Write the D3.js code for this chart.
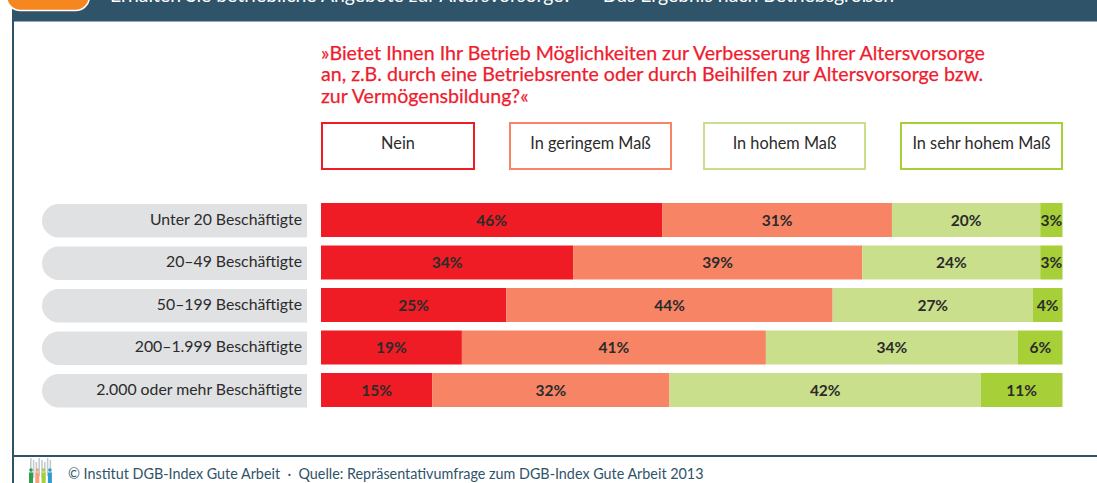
<!DOCTYPE html>
<html>
<head>
<meta charset="utf-8">
<script src="https://cdn.jsdelivr.net/npm/d3@7"></script>
<style>
  html, body { margin: 0; padding: 0; background: #fff; overflow: hidden; }
  svg { display: block; font-family: Lato, "Noto Sans", sans-serif; }
</style>
</head>
<body>
<div id="chart"></div>
<script>
const categories = ['Unter 20 Beschäftigte', '20–49 Beschäftigte', '50–199 Beschäftigte', '200–1.999 Beschäftigte', '2.000 oder mehr Beschäftigte'];
const seriesNames = ['Nein', 'In geringem Maß', 'In hohem Maß', 'In sehr hohem Maß'];
const nein = [46, 34, 25, 19, 15];
const gering = [31, 39, 44, 41, 32];
const hoch = [20, 24, 27, 34, 42];
const sehrHoch = [3, 3, 4, 6, 11];
const colors = ['#ef1c25', '#f78565', '#cadf8b', '#a7cf38'];
const questionLines = [
    '»Bietet Ihnen Ihr Betrieb Möglichkeiten zur Verbesserung Ihrer Altersvorsorge',
    'an, z.B. durch eine Betriebsrente oder durch Beihilfen zur Altersvorsorge bzw.',
    'zur Vermögensbildung?«'
];
const headerTitle = 'Erhalten Sie betriebliche Angebote zur Altersvorsorge?  –  Das Ergebnis nach Betriebsgrößen';
const footerText = '© Institut DGB-Index Gute Arbeit  ·  Quelle: Repräsentativumfrage zum DGB-Index Gute Arbeit 2013';
const logoColors = ['#2f9e4f', '#f7a27e', '#a7cf38', '#2e9ccf'];

const width = 1097, height = 483;
const frameColor = '#2f5469';
const textColor = '#2b2b2b';

const svg = d3.select('#chart').append('svg')
    .attr('width', width)
    .attr('height', height)
    .attr('viewBox', [0, 0, width, height]);

// Frame and cropped header band
svg.append('rect').attr('x', 12).attr('y', 0).attr('width', width - 12).attr('height', 21.5).attr('fill', frameColor);
svg.append('rect').attr('x', 12).attr('y', 0).attr('width', 2).attr('height', 483).attr('fill', frameColor);
svg.append('rect').attr('x', 12).attr('y', 455).attr('width', width - 12).attr('height', 2).attr('fill', frameColor);
svg.append('rect').attr('x', 6.5).attr('y', -30).attr('width', 83).attr('height', 40.5)
    .attr('rx', 14).attr('fill', '#f6861f').attr('stroke', '#fff').attr('stroke-width', 1.5);
svg.append('text').attr('x', 110).attr('y', 1.5).attr('fill', '#fff')
    .attr('font-size', 19.4).style('white-space', 'pre').text(headerTitle);

// Question
svg.append('g').selectAll('text').data(questionLines).join('text')
    .attr('x', 321)
    .attr('y', (d, i) => 59.7 + i * 21.4)
    .attr('fill', '#ef1c2e')
    .attr('stroke', '#ef1c2e')
    .attr('stroke-width', 0.25)
    .attr('font-size', 19.6)
    .text(d => d);

// Legend boxes
const legendX = [321, 509, 703, 900];
const legendW = [154, 163, 163, 163];
const legend = svg.append('g').selectAll('g').data(seriesNames).join('g');
legend.append('rect')
    .attr('x', (d, i) => legendX[i] + 1)
    .attr('y', 123)
    .attr('width', (d, i) => legendW[i] - 2)
    .attr('height', 46)
    .attr('fill', '#fff')
    .attr('stroke', (d, i) => colors[i])
    .attr('stroke-width', 2);
legend.append('text')
    .attr('x', (d, i) => legendX[i] + legendW[i] / 2)
    .attr('y', 148.5)
    .attr('text-anchor', 'middle')
    .attr('fill', textColor)
    .attr('font-size', 16.3)
    .text(d => d);

// Bars
const x = d3.scaleLinear().domain([0, 100]).range([321, 1062.5]);
const y = d3.scaleBand().domain(categories).range([198.75, 411.25]).paddingInner(0.2).paddingOuter(0.1);

const rows = categories.map((c, i) => ({ category: c, nein: nein[i], gering: gering[i], hoch: hoch[i], sehrHoch: sehrHoch[i] }));
const keys = ['nein', 'gering', 'hoch', 'sehrHoch'];
const stacked = d3.stack().keys(keys)(rows);

// Row label pills
const pill = svg.append('g').selectAll('g').data(categories).join('g');
pill.append('path')
    .attr('fill', '#e0e1e3')
    .attr('d', d => {
        const t = y(d) + 1, h = y.bandwidth() - 0.5, r = h / 2;
        return `M307,${t}H${42 + r}A${r},${r} 0 0 0 ${42 + r},${t + h}H307Z`;
    });
pill.append('text')
    .attr('x', 302)
    .attr('y', d => y(d) + y.bandwidth() / 2 + 4.5)
    .attr('text-anchor', 'end')
    .attr('fill', textColor)
    .attr('font-size', 15.8)
    .text(d => d);

const layers = svg.append('g').selectAll('g').data(stacked).join('g')
    .attr('fill', (d, i) => colors[i]);
layers.selectAll('rect').data(d => d).join('rect')
    .attr('x', d => x(d[0]))
    .attr('y', d => y(d.data.category))
    .attr('width', d => x(d[1]) - x(d[0]))
    .attr('height', y.bandwidth());
layers.selectAll('text').data(d => d).join('text')
    .attr('x', d => (x(d[0]) + x(d[1])) / 2)
    .attr('y', d => y(d.data.category) + y.bandwidth() / 2 + 5.5)
    .attr('text-anchor', 'middle')
    .attr('fill', textColor)
    .attr('font-size', 15.5)
    .attr('font-weight', 700)
    .text(d => `${d[1] - d[0]}%`);

// Footer
svg.append('text').attr('x', 68).attr('y', 479).attr('fill', frameColor)
    .attr('font-size', 14.35).style('white-space', 'pre').text(footerText);

// Logo: pale bars behind four small figures
const logo = svg.append('g');
logo.selectAll('rect.bg').data(d3.range(8)).join('rect')
    .attr('class', 'bg')
    .attr('x', i => 30 + i * 2.8)
    .attr('y', i => 458 + (i % 3) * 2)
    .attr('width', 1.6)
    .attr('height', 18)
    .attr('fill', '#c4cbd0');
const figure = logo.selectAll('g.fig').data(logoColors).join('g')
    .attr('class', 'fig')
    .attr('fill', d => d);
figure.append('circle')
    .attr('cx', (d, i) => 31 + i * 6.3)
    .attr('cy', 470)
    .attr('r', 1.8);
figure.append('rect')
    .attr('x', (d, i) => 29 + i * 6.3)
    .attr('y', 472.5)
    .attr('width', 4)
    .attr('height', 10.5);
</script>
</body>
</html>
